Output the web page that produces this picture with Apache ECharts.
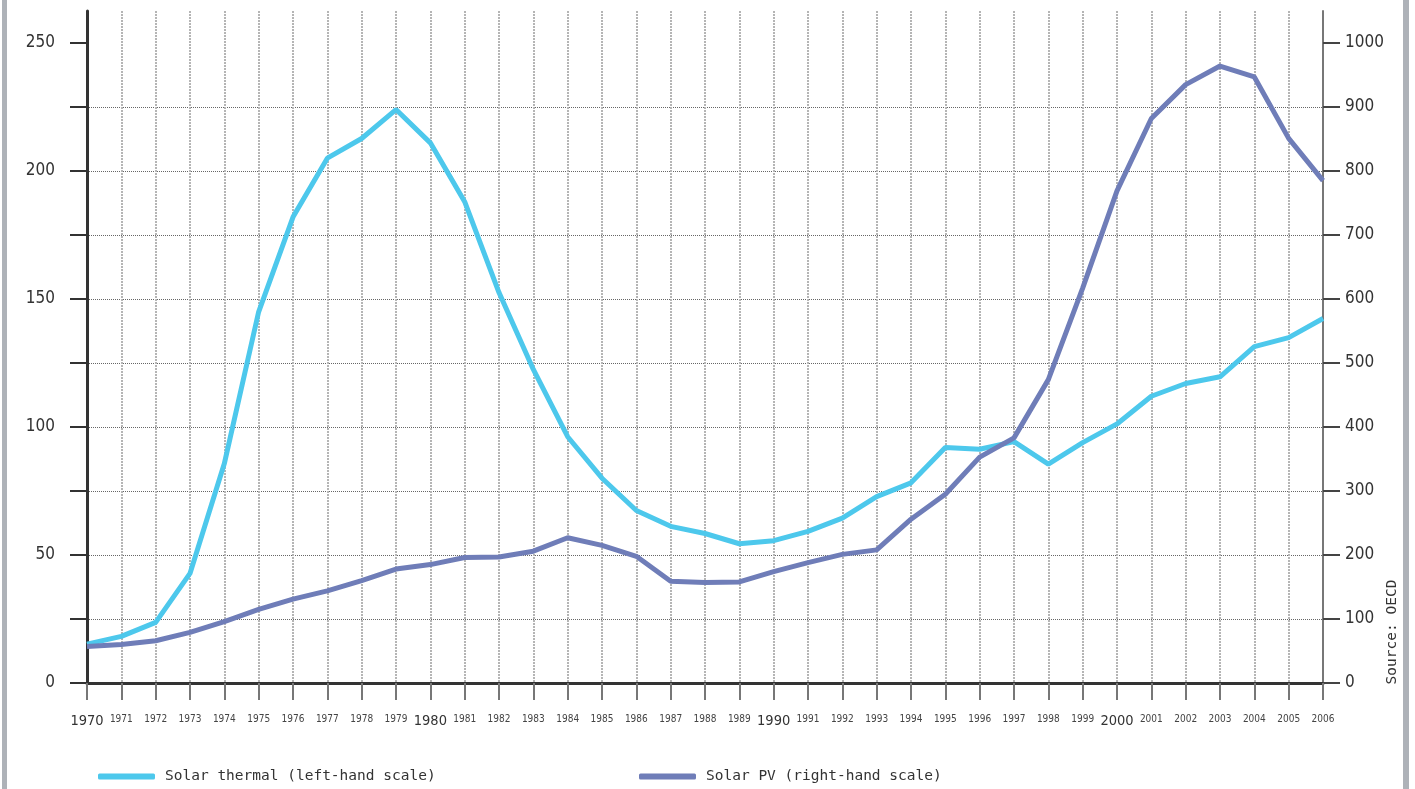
<!DOCTYPE html>
<html>
<head>
<meta charset="utf-8">
<script src="https://cdn.jsdelivr.net/npm/echarts@6/dist/echarts.min.js"></script>
<style>
html,body{margin:0;padding:0;background:#fff;}
#chart{width:1415px;height:789px;}
</style>
</head>
<body>
<div id="chart"></div>
<script>
const years = ['1970','1971','1972','1973','1974','1975','1976','1977','1978','1979',
  '1980','1981','1982','1983','1984','1985','1986','1987','1988','1989',
  '1990','1991','1992','1993','1994','1995','1996','1997','1998','1999',
  '2000','2001','2002','2003','2004','2005','2006'];
const solarThermal = [15.2,18.2,23.7,42.8,85.7,145,182,205,212.7,224,
  211,188,152.5,122.5,96.2,80,67.4,61.2,58.4,54.4,
  55.6,59.2,64.4,72.8,78.2,92,91.3,94.3,85.5,93.9,
  101.2,112,117,119.6,131.4,134.9,142.4];
const solarPV = [57,60,66,79,96,115,131,144,160,178,
  185,196,197,206,227,215,198,159,157,158,
  174,188,201,208,256,295,353,383,474,617,
  769,882,935,964,947,851,785];
const leftTicks = [0,25,50,75,100,125,150,175,200,225,250];
const rightTicks = [0,100,200,300,400,500,600,700,800,900,1000];
const seriesNames = ['Solar thermal (left-hand scale)','Solar PV (right-hand scale)'];
const sourceText = 'Source: OECD';

const NUMFONT = '"DejaVu Sans Condensed","DejaVu Sans",sans-serif';
const TXTFONT = '"DejaVu Sans Mono","Liberation Mono",monospace';
const chart = echarts.init(document.getElementById('chart'));
chart.setOption({
  animation:false,
  backgroundColor:'#fff',
  textStyle:{fontFamily:NUMFONT},
  grid:{left:87,right:92,top:11,bottom:106,containLabel:false},
  legend:[
    {data:[seriesNames[0]],left:93,top:764,itemWidth:57,itemHeight:6,itemGap:0,icon:'roundRect',
     textStyle:{fontSize:14.5,color:'#333',fontFamily:TXTFONT,padding:[0,0,0,5]}},
    {data:[seriesNames[1]],left:634,top:764,itemWidth:57,itemHeight:6,itemGap:0,icon:'roundRect',
     textStyle:{fontSize:14.5,color:'#333',fontFamily:TXTFONT,padding:[0,0,0,5]}}
  ],
  xAxis:{
    type:'category',data:years,boundaryGap:false,
    axisLine:{lineStyle:{color:'#333',width:3}},
    axisTick:{show:true,interval:0,length:17,lineStyle:{color:'#777',width:2}},
    axisLabel:{interval:0,margin:31,
      formatter:v=> (Number(v)%10===0 ? '{big|'+v+'}' : '{small|'+v+'}'),
      rich:{big:{fontSize:14.5,color:'#333',fontFamily:NUMFONT},
            small:{fontSize:10,color:'#444',fontFamily:NUMFONT}}},
    splitLine:{show:true,interval:0,lineStyle:{color:'#b5b5b5',width:2,type:[2,1]}}
  },
  yAxis:[
    {type:'value',min:0,max:262.5,interval:25,position:'left',
     axisLine:{show:true,lineStyle:{color:'#333',width:3}},
     axisTick:{show:true,length:17,customValues:leftTicks,lineStyle:{color:'#333',width:2}},
     axisLabel:{margin:32,fontSize:17,color:'#333',showMaxLabel:false,fontFamily:NUMFONT,
       formatter:v=> (v%50===0 && v<=250 ? String(v) : '')},
     splitLine:{show:true,showMaxLine:false,showMinLine:false,lineStyle:{color:'#666',width:1,type:[1,1]}}
    },
    {type:'value',min:0,max:1050,interval:100,position:'right',
     axisLine:{show:true,lineStyle:{color:'#777',width:2}},
     axisTick:{show:true,length:17,customValues:rightTicks,lineStyle:{color:'#444',width:2}},
     axisLabel:{margin:22,fontSize:17,color:'#333',showMaxLabel:false,fontFamily:NUMFONT,
       formatter:v=> (v%100===0 && v<=1000 ? String(v) : '')},
     splitLine:{show:false}
    }
  ],
  series:[
    {name:seriesNames[0],type:'line',yAxisIndex:0,data:solarThermal,showSymbol:false,
     lineStyle:{color:'#4DC8EC',width:5},itemStyle:{color:'#4DC8EC'},z:3},
    {name:seriesNames[1],type:'line',yAxisIndex:1,data:solarPV,showSymbol:false,
     lineStyle:{color:'#6F7DB8',width:5},itemStyle:{color:'#6F7DB8'},z:4}
  ],
  graphic:[
    {type:'rect',left:2,top:0,shape:{width:5,height:789},style:{fill:'#aeb2b8'}},
    {type:'rect',left:1403,top:0,shape:{width:6,height:789},style:{fill:'#aeb2b8'}},
    {type:'text',x:1392,y:632,rotation:Math.PI/2,
     style:{text:sourceText,fontSize:14.5,fill:'#333',fontFamily:TXTFONT,align:'center',verticalAlign:'middle'}}
  ]
});
</script>
</body>
</html>
